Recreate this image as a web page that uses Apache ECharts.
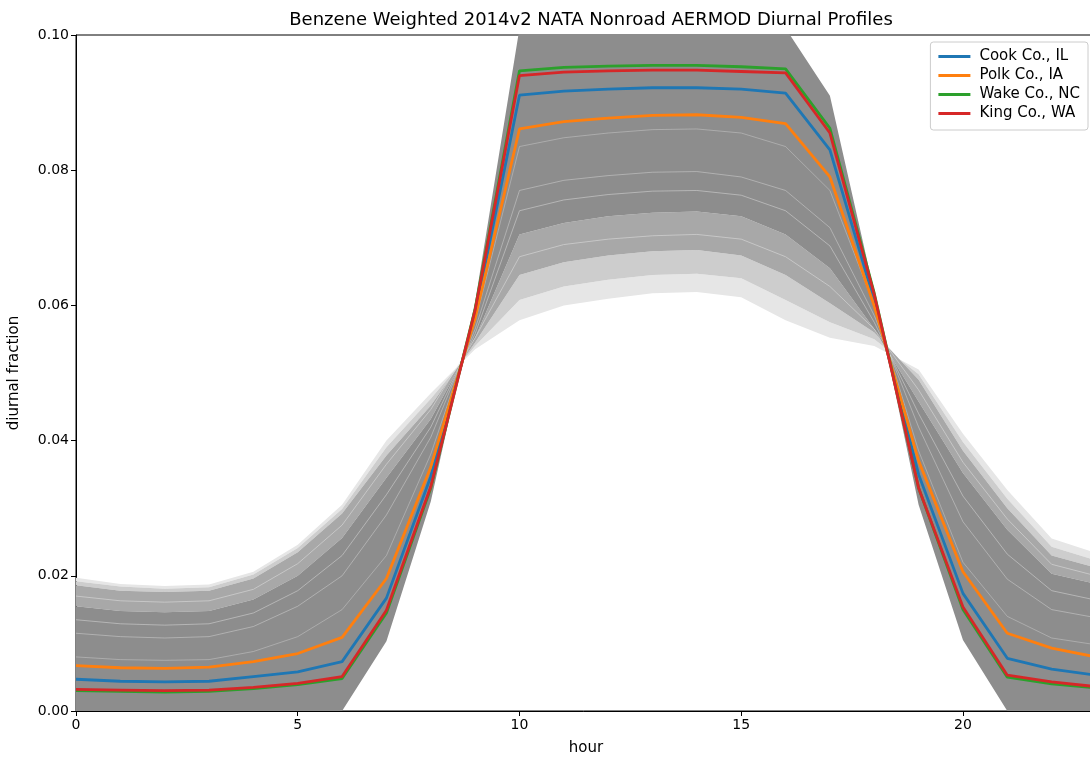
<!DOCTYPE html>
<html>
<head>
<meta charset="utf-8">
<script src="https://cdn.jsdelivr.net/npm/echarts@6/dist/echarts.min.js"></script>
<style>
  html, body { margin: 0; padding: 0; background: #fff; }
  #chart { width: 1090px; height: 760px; }
</style>
</head>
<body>
<div id="chart"></div>
<script>
// hours of the day
const hours = [0, 1, 2, 3, 4, 5, 6, 7, 8, 9, 10, 11, 12, 13, 14, 15, 16, 17, 18, 19, 20, 21, 22, 23]

// gray county profiles: flattest edge -> steepest edge
const flattest  = [0.0197, 0.0188, 0.0185, 0.0187, 0.0206, 0.0246, 0.0305, 0.0400, 0.0470, 0.0535, 0.0578, 0.0600, 0.0610, 0.0618, 0.0620, 0.0612, 0.0578, 0.0552, 0.0540, 0.0505, 0.0410, 0.0327, 0.0255, 0.0234]
const edgeFaint = [0.0192, 0.0184, 0.0181, 0.0183, 0.0202, 0.0241, 0.0299, 0.0390, 0.0462, 0.0540, 0.0608, 0.0628, 0.0638, 0.0645, 0.0647, 0.0640, 0.0608, 0.0575, 0.0550, 0.0498, 0.0398, 0.0314, 0.0243, 0.0223]
const edgeLight = [0.0186, 0.0178, 0.0176, 0.0178, 0.0196, 0.0235, 0.0292, 0.0378, 0.0452, 0.0545, 0.0645, 0.0664, 0.0674, 0.0680, 0.0682, 0.0674, 0.0645, 0.0603, 0.0560, 0.0490, 0.0385, 0.0300, 0.0230, 0.0212]
const edgeMid   = [0.0155, 0.0148, 0.0146, 0.0148, 0.0165, 0.0200, 0.0256, 0.0345, 0.0432, 0.0552, 0.0705, 0.0722, 0.0732, 0.0737, 0.0739, 0.0732, 0.0705, 0.0655, 0.0565, 0.0458, 0.0352, 0.0268, 0.0203, 0.0188]
const steepest  = [0, 0, 0, 0, 0, 0, 0, 0.0103, 0.0310, 0.0605, 0.1010, 0.1030, 0.1040, 0.1045, 0.1045, 0.1035, 0.1010, 0.0910, 0.0620, 0.0305, 0.0105, 0, 0, 0]

// lighter streaks inside the cloud
const streak1 = [0.0170, 0.0163, 0.0161, 0.0163, 0.0180, 0.0218, 0.0275, 0.0365, 0.0446, 0.0552, 0.0672, 0.0690, 0.0698, 0.0703, 0.0705, 0.0698, 0.0672, 0.0628, 0.0565, 0.0475, 0.0368, 0.0284, 0.0217, 0.0200]
const streak2 = [0.0115, 0.0110, 0.0108, 0.0110, 0.0125, 0.0155, 0.0200, 0.0290, 0.0405, 0.0565, 0.0770, 0.0785, 0.0792, 0.0797, 0.0798, 0.0790, 0.0770, 0.0715, 0.0585, 0.0420, 0.0280, 0.0195, 0.0150, 0.0138]
const streak3 = [0.0080, 0.0076, 0.0075, 0.0076, 0.0088, 0.0110, 0.0150, 0.0230, 0.0380, 0.0575, 0.0835, 0.0848, 0.0855, 0.0860, 0.0861, 0.0855, 0.0835, 0.0770, 0.0600, 0.0385, 0.0220, 0.0140, 0.0108, 0.0098]
const streak4 = [0.0135, 0.0129, 0.0127, 0.0129, 0.0145, 0.0178, 0.0230, 0.0320, 0.0420, 0.0558, 0.0740, 0.0756, 0.0764, 0.0769, 0.0770, 0.0763, 0.0740, 0.0688, 0.0575, 0.0440, 0.0318, 0.0232, 0.0178, 0.0164]

// highlighted counties
const cook = [0.0047, 0.0044, 0.0043, 0.0044, 0.0051, 0.0058, 0.0073, 0.0167, 0.0347, 0.0587, 0.0911, 0.0917, 0.0920, 0.0922, 0.0922, 0.0920, 0.0914, 0.0830, 0.0607, 0.0350, 0.0174, 0.0078, 0.0062, 0.0053]
const polk = [0.0067, 0.0064, 0.0063, 0.0065, 0.0073, 0.0085, 0.0109, 0.0196, 0.0361, 0.0581, 0.0861, 0.0872, 0.0877, 0.0881, 0.0882, 0.0878, 0.0869, 0.0790, 0.0599, 0.0370, 0.0206, 0.0115, 0.0093, 0.0080]
const wake = [0.0030, 0.0029, 0.0028, 0.0029, 0.0033, 0.0039, 0.0048, 0.0145, 0.0330, 0.0595, 0.0947, 0.0952, 0.0954, 0.0955, 0.0955, 0.0953, 0.0950, 0.0862, 0.0618, 0.0330, 0.0150, 0.0050, 0.0040, 0.0034]
const king = [0.0032, 0.0031, 0.0030, 0.0031, 0.0035, 0.0041, 0.0051, 0.0149, 0.0332, 0.0593, 0.0940, 0.0945, 0.0947, 0.0948, 0.0948, 0.0946, 0.0944, 0.0855, 0.0616, 0.0330, 0.0154, 0.0053, 0.0043, 0.0036]

const diff = (a, b) => a.map((v, i) => +(v - b[i]).toFixed(5))

// band between two profiles, drawn as a stacked area
const band = (lower, upper, id, color) => [
  {
    name: id + '-base', type: 'line', stack: id, stackStrategy: 'all', data: lower,
    symbol: 'none', silent: true, lineStyle: { opacity: 0 }
  },
  {
    name: id + '-fill', type: 'line', stack: id, stackStrategy: 'all', data: diff(upper, lower),
    symbol: 'none', silent: true, lineStyle: { opacity: 0 },
    areaStyle: { color: color, opacity: 1 }
  }
]

const streak = (data, op) => ({
  type: 'line', data: data, symbol: 'none', silent: true,
  lineStyle: { color: '#e6e6e6', width: 1, opacity: op }
})

const county = (name, data, color) => ({
  name: name, type: 'line', data: data, symbol: 'none',
  lineStyle: { color: color, width: 2.8 }, itemStyle: { color: color }
})

const showEvery5 = (i) => i % 5 === 0

const chart = echarts.init(document.getElementById('chart'))
chart.setOption({
  animation: false,
  backgroundColor: '#fff',
  textStyle: { fontFamily: 'DejaVu Sans' },
  title: {
    text: 'Benzene Weighted 2014v2 NATA Nonroad AERMOD Diurnal Profiles',
    left: 586, top: 6, textAlign: 'center',
    textStyle: { fontSize: 18, fontWeight: 'normal', color: '#000', fontFamily: 'DejaVu Sans' }
  },
  legend: {
    data: ['Cook Co., IL', 'Polk Co., IA', 'Wake Co., NC', 'King Co., WA'],
    orient: 'vertical', right: 2, top: 42,
    padding: [7, 8, 9, 8], itemGap: 4,
    icon: 'rect', itemWidth: 32, itemHeight: 3,
    backgroundColor: 'rgba(255,255,255,0.85)',
    borderColor: '#ccc', borderWidth: 1, borderRadius: 3,
    textStyle: { fontSize: 15, color: '#000', fontFamily: 'DejaVu Sans', padding: [0, 0, 0, 4] }
  },
  grid: {
    left: 76, right: -6, top: 35, bottom: 49,
    show: true, borderColor: '#000', borderWidth: 1,
    outerBoundsMode: 'none'
  },
  xAxis: {
    type: 'category', data: hours, boundaryGap: false,
    name: 'hour', nameLocation: 'middle', nameGap: 30,
    nameTextStyle: { fontSize: 15, color: '#000' },
    axisLine: { lineStyle: { color: '#000', width: 1 } },
    axisTick: { interval: showEvery5, length: 5, lineStyle: { color: '#000' } },
    axisLabel: { interval: showEvery5, fontSize: 14, color: '#000', margin: 7 },
    splitLine: { show: false }
  },
  yAxis: {
    type: 'value', min: 0, max: 0.1, interval: 0.02,
    name: 'diurnal fraction', nameLocation: 'middle', nameGap: 54, nameRotate: 90,
    nameTextStyle: { fontSize: 15, color: '#000' },
    axisLine: { show: true, lineStyle: { color: '#000', width: 1 } },
    axisTick: { show: true, length: 5, lineStyle: { color: '#000' } },
    axisLabel: { fontSize: 14, color: '#000', margin: 7, formatter: (v) => v.toFixed(2) },
    splitLine: { show: false }
  },
  series: [
    ...band(flattest, edgeFaint, 'faint', '#e6e6e6'),
    ...band(edgeFaint, edgeLight, 'light', '#cdcdcd'),
    ...band(edgeLight, edgeMid, 'mid', '#a8a8a8'),
    ...band(edgeMid, steepest, 'dark', '#8d8d8d'),
    streak(streak1, 0.5),
    streak(streak4, 0.45),
    streak(streak2, 0.4),
    streak(streak3, 0.35),
    county('Cook Co., IL', cook, '#1f77b4'),
    county('Polk Co., IA', polk, '#ff7f0e'),
    county('Wake Co., NC', wake, '#2ca02c'),
    county('King Co., WA', king, '#d62728')
  ]
})
</script>
</body>
</html>
